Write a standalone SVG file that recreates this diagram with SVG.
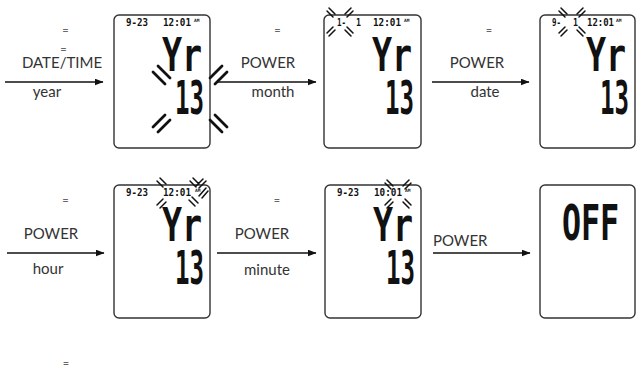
<svg xmlns="http://www.w3.org/2000/svg" width="636" height="368" viewBox="0 0 636 368">
<style>
.lbl{font-family:Lato,"Liberation Sans",sans-serif;font-size:15px;fill:#333}
.eq{font-family:Lato,"Liberation Sans",sans-serif;font-size:11px;fill:#666}
.scr{fill:#fff;stroke:#333;stroke-width:1.4}
.lcd{font-family:"DejaVu Sans Mono","Liberation Mono",monospace;font-weight:bold;fill:#111}
.sm{font-size:10px}
.am{font-size:4.5px}
.big{font-size:46px}
.fl{stroke:#111;stroke-width:2.8;stroke-linecap:round;fill:none}
.fls{stroke:#111;stroke-width:1.5;stroke-linecap:round;fill:none}
.arr{stroke:#111;stroke-width:1.6;fill:none}
</style>
<defs>
<marker id="ah" markerWidth="9" markerHeight="7" refX="8.5" refY="3.5" orient="auto" markerUnits="userSpaceOnUse"><path d="M0,0 L9,3.5 L0,7 z" fill="#111"/></marker>
<path id="fs" d="M-13,-11 L-7,-5 M-11,-14 L-5,-8 M13,-11 L7,-5 M11,-14 L5,-8 M-13,11 L-7,5 M-11,14 L-5,8 M13,11 L7,5 M11,14 L5,8"/>
</defs>

<g id="connectors">
<line class="arr" x1="5" y1="82" x2="103" y2="82" marker-end="url(#ah)"/>
<line class="arr" x1="217" y1="82" x2="316" y2="82" marker-end="url(#ah)"/>
<line class="arr" x1="432" y1="82" x2="529" y2="82" marker-end="url(#ah)"/>
<line class="arr" x1="7" y1="253" x2="104" y2="253" marker-end="url(#ah)"/>
<line class="arr" x1="217" y1="253" x2="316" y2="253" marker-end="url(#ah)"/>
<line class="arr" x1="433" y1="253" x2="530" y2="253" marker-end="url(#ah)"/>
</g>

<g id="labels">
<text class="eq" x="65.5" y="33.5" text-anchor="middle">=</text>
<text class="eq" x="63.5" y="52.5" text-anchor="middle">=</text>
<text class="lbl" x="62" y="68" text-anchor="middle">DATE/TIME</text>
<text class="lbl" x="47" y="97" text-anchor="middle">year</text>

<text class="eq" x="277.5" y="33.5" text-anchor="middle">=</text>
<text class="lbl" x="268" y="68" text-anchor="middle">POWER</text>
<text class="lbl" x="273" y="97" text-anchor="middle">month</text>

<text class="eq" x="489" y="33.5" text-anchor="middle">=</text>
<text class="lbl" x="477" y="68" text-anchor="middle">POWER</text>
<text class="lbl" x="485" y="97" text-anchor="middle">date</text>

<text class="eq" x="65.5" y="203.5" text-anchor="middle">=</text>
<text class="lbl" x="51" y="239" text-anchor="middle">POWER</text>
<text class="lbl" x="48" y="274" text-anchor="middle">hour</text>

<text class="eq" x="277" y="203.5" text-anchor="middle">=</text>
<text class="lbl" x="262" y="239" text-anchor="middle">POWER</text>
<text class="lbl" x="267" y="275" text-anchor="middle">minute</text>

<text class="lbl" x="433" y="246">POWER</text>

<text class="eq" x="66" y="366.5" text-anchor="middle">=</text>
</g>

<g id="screen-year">
<rect class="scr" x="114" y="15" width="96" height="133" rx="5"/>
<text class="lcd sm" x="126" y="26" textLength="22" lengthAdjust="spacingAndGlyphs">9-23</text>
<text class="lcd sm" x="163" y="26" textLength="28" lengthAdjust="spacingAndGlyphs">12:01</text>
<text class="lcd am" x="194" y="22">AM</text>
<text class="lcd big" transform="translate(162,71) scale(0.725,1)">Yr</text>
<text class="lcd big" transform="translate(175,113.5) scale(0.525,1)">13</text>
<path class="fl" d="M153,72 L165,84 M158,66 L170,78 M153,127 L165,115 M158,132 L170,120 M227,72 L215,84 M222,66 L210,78 M227,127 L215,115 M222,132 L210,120"/>
</g>

<g id="screen-month">
<rect class="scr" x="324" y="15" width="97" height="133" rx="5"/>
<text class="lcd sm" x="337" y="26" textLength="9" lengthAdjust="spacingAndGlyphs">1-</text>
<text class="lcd sm" x="356" y="26" textLength="5" lengthAdjust="spacingAndGlyphs">1</text>
<text class="lcd sm" x="373" y="26" textLength="28" lengthAdjust="spacingAndGlyphs">12:01</text>
<text class="lcd am" x="404" y="22">AM</text>
<text class="lcd big" transform="translate(372,71) scale(0.725,1)">Yr</text>
<text class="lcd big" transform="translate(385,113.5) scale(0.525,1)">13</text>
<use href="#fs" class="fls" transform="translate(340,22)"/>
</g>

<g id="screen-date">
<rect class="scr" x="540" y="15" width="95" height="133" rx="5"/>
<text class="lcd sm" x="552" y="26" textLength="9" lengthAdjust="spacingAndGlyphs">9-</text>
<text class="lcd sm" x="573" y="26" textLength="5" lengthAdjust="spacingAndGlyphs">1</text>
<text class="lcd sm" x="587" y="26" textLength="27" lengthAdjust="spacingAndGlyphs">12:01</text>
<text class="lcd am" x="616" y="22">AM</text>
<text class="lcd big" transform="translate(586,71) scale(0.725,1)">Yr</text>
<text class="lcd big" transform="translate(600,113.5) scale(0.525,1)">13</text>
<use href="#fs" class="fls" transform="translate(572,22)"/>
</g>

<g id="screen-hour">
<rect class="scr" x="114" y="185" width="96" height="133" rx="5"/>
<text class="lcd sm" x="126" y="196" textLength="22" lengthAdjust="spacingAndGlyphs">9-23</text>
<text class="lcd sm" x="163" y="196" textLength="28" lengthAdjust="spacingAndGlyphs">12:01</text>
<text class="lcd am" x="195" y="192">AM</text>
<text class="lcd big" transform="translate(162,241) scale(0.725,1)">Yr</text>
<text class="lcd big" transform="translate(175,283.5) scale(0.525,1)">13</text>
<path class="fls" d="M157,181 L163,187 M160,178 L166,184 M157,205 L163,199 M160,208 L166,202 M190,181 L196,187 M193,178 L199,184 M199,196 L206,188 M202,198 L208,191 M189,200 L195,206 M192,197 L198,203 M196,186 L203,179 M199,188 L206,181"/>
</g>

<g id="screen-minute">
<rect class="scr" x="325" y="185" width="96" height="133" rx="5"/>
<text class="lcd sm" x="337" y="196" textLength="22" lengthAdjust="spacingAndGlyphs">9-23</text>
<text class="lcd sm" x="374" y="196" textLength="28" lengthAdjust="spacingAndGlyphs">10:01</text>
<text class="lcd am" x="405" y="192">AM</text>
<text class="lcd big" transform="translate(373,241) scale(0.725,1)">Yr</text>
<text class="lcd big" transform="translate(386,283.5) scale(0.525,1)">13</text>
<use href="#fs" class="fls" transform="translate(398,194)"/>
</g>

<g id="screen-off">
<rect class="scr" x="540" y="185" width="95" height="133" rx="5"/>
<text class="lcd" font-size="50" transform="translate(562,240) scale(0.633,1)">OFF</text>
</g>
</svg>
